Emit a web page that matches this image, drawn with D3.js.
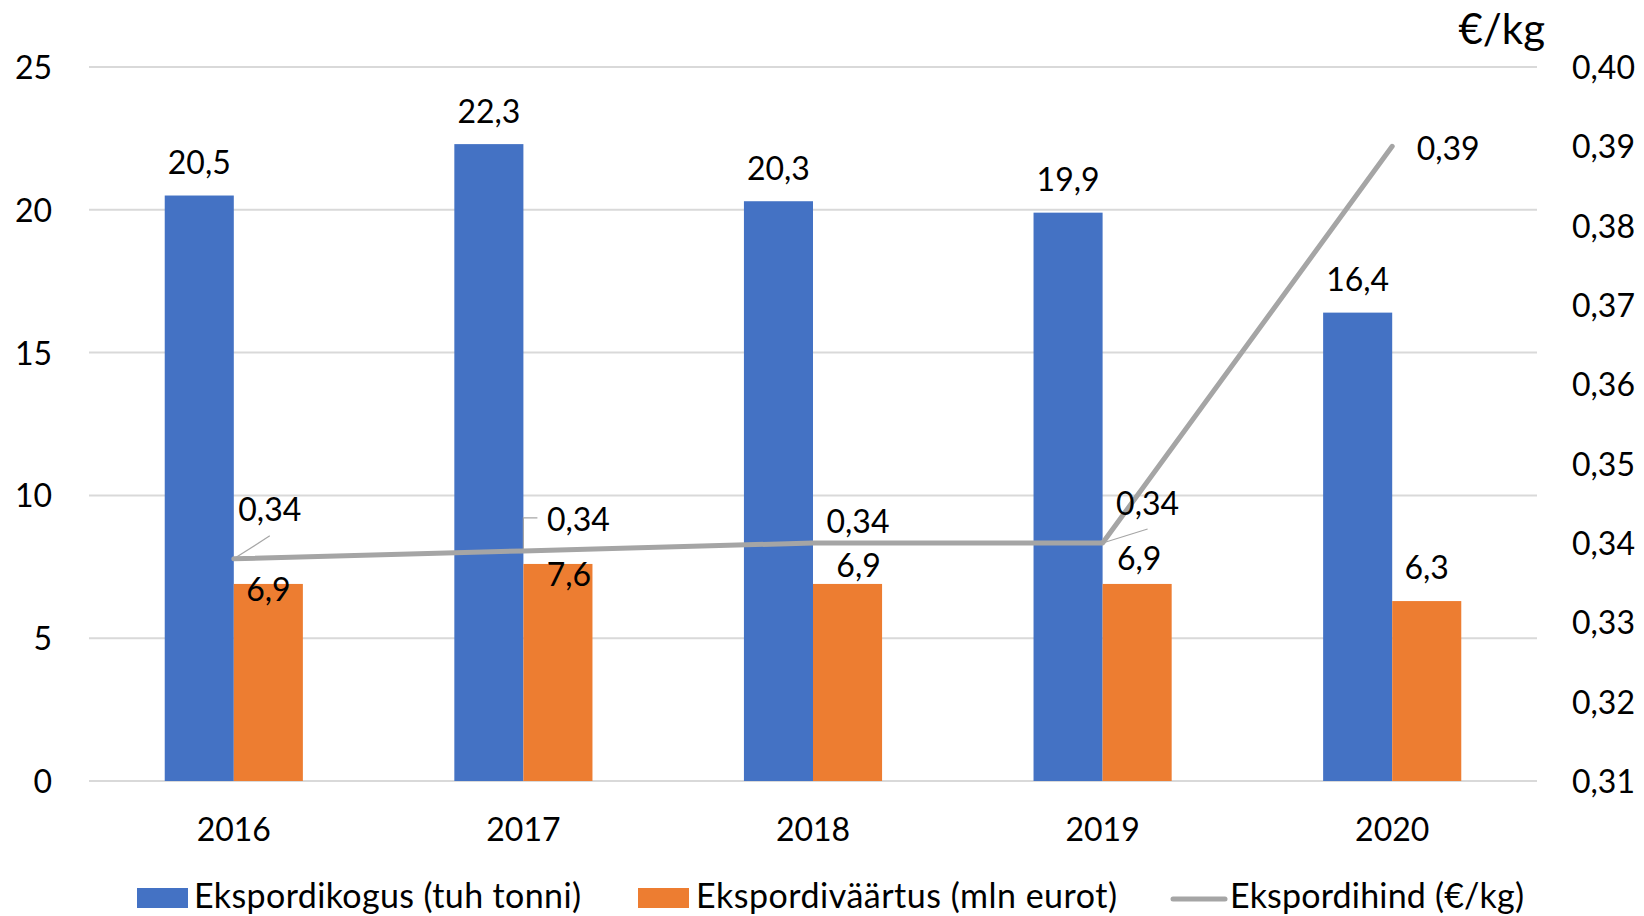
<!DOCTYPE html>
<html lang="et">
<head>
<meta charset="utf-8">
<title>Eksport 2016–2020</title>
<script src="https://cdn.jsdelivr.net/npm/d3@7"></script>
<style>
  html, body { margin: 0; padding: 0; background: #fff; }
  svg { display: block; font-family: Lato, "Open Sans", sans-serif; }
  text { fill: #000; }
</style>
</head>
<body>
<svg id="chart" width="1644" height="916"></svg>
<script>
// Years on the category axis
const years = ["2016", "2017", "2018", "2019", "2020"];
// Export quantity, thousand tonnes
const quantity = [20.5, 22.3, 20.3, 19.9, 16.4];
// Export value, million euros
const exportValue = [6.9, 7.6, 6.9, 6.9, 6.3];
// Export price, €/kg
const price = [0.338, 0.339, 0.340, 0.340, 0.390];

// Axis ticks
const leftTicks = [0, 5, 10, 15, 20, 25];
const rightTicks = [0.31, 0.32, 0.33, 0.34, 0.35, 0.36, 0.37, 0.38, 0.39, 0.40];

// Series names for the legend
const seriesNames = ["Ekspordikogus (tuh tonni)", "Ekspordiväärtus (mln eurot)", "Ekspordihind (€/kg)"];

// Label nudges (px) for value labels that were moved off their default place
const valueLabelNudge = [[0, 6], [11, 11], [11, -18], [2, -25], [0, -34]];
const priceLabelNudge = [[36, -49], [55, -31], [45, -22], [45, -40], [56, 2]];
const priceLeader = ["straight", "elbow", "none", "straight", "none"];

const colors = { qty: "#4472C4", val: "#ED7D31", price: "#A5A5A5", grid: "#D9D9D9" };
const FS = 32;
const capHalf = FS * 0.36;

const locale = d3.formatLocale({ decimal: ",", thousands: " ", grouping: [3], currency: ["", " €"] });
const f1 = locale.format(".1f");
const f2 = locale.format(".2f");
const f0 = locale.format("d");

const svg = d3.select("#chart");
const plot = { left: 89, right: 1537, top: 67, bottom: 781 };

const x = d3.scaleBand().domain(years).range([plot.left, plot.right]).padding(0);
const groupW = x.bandwidth() * 0.477;
const xs = d3.scaleBand().domain(["qty", "val"]).range([0, groupW]).padding(0);
const groupOff = (x.bandwidth() - groupW) / 2;
const yL = d3.scaleLinear().domain([0, 25]).range([plot.bottom, plot.top]);
const yR = d3.scaleLinear().domain([0.31, 0.40]).range([plot.bottom, plot.top]);
const cx = d => x(d) + x.bandwidth() / 2;

// Horizontal gridlines
svg.append("g")
  .selectAll("line")
  .data(leftTicks)
  .join("line")
  .attr("x1", plot.left).attr("x2", plot.right)
  .attr("y1", d => yL(d)).attr("y2", d => yL(d))
  .attr("stroke", colors.grid).attr("stroke-width", 2);

// Left axis
const axL = svg.append("g")
  .attr("transform", `translate(${plot.left},0)`)
  .call(d3.axisLeft(yL).tickValues(leftTicks).tickSize(0).tickPadding(37).tickFormat(f0));
axL.select(".domain").remove();
axL.selectAll("text").attr("font-size", FS).attr("font-family", "Lato").attr("fill", "#000").attr("dy", null).attr("y", capHalf);

// Right axis
const axR = svg.append("g")
  .attr("transform", `translate(${plot.right},0)`)
  .call(d3.axisRight(yR).tickValues(rightTicks).tickSize(0).tickPadding(35).tickFormat(f2));
axR.select(".domain").remove();
axR.selectAll("text").attr("font-size", FS).attr("font-family", "Lato").attr("fill", "#000").attr("dy", null).attr("y", capHalf);

// Bottom axis (labels only)
const axB = svg.append("g")
  .attr("transform", `translate(0,${plot.bottom})`)
  .call(d3.axisBottom(x).tickSize(0));
axB.select(".domain").remove();
axB.selectAll("text").attr("font-size", FS).attr("font-family", "Lato").attr("fill", "#000").attr("dy", null).attr("y", 48 + capHalf);

// Unit label for the right axis
svg.append("text")
  .attr("x", 1545).attr("y", 44)
  .attr("text-anchor", "end")
  .attr("font-size", 42)
  .text("€/kg");

// Bars
const rows = years.map((y, i) => ({ year: y, i, qty: quantity[i], val: exportValue[i], price: price[i] }));

const groups = svg.append("g").selectAll("g")
  .data(rows)
  .join("g")
  .attr("transform", d => `translate(${x(d.year) + groupOff},0)`);

groups.append("rect")
  .attr("x", xs("qty")).attr("width", xs.bandwidth())
  .attr("y", d => yL(d.qty)).attr("height", d => yL(0) - yL(d.qty))
  .attr("fill", colors.qty);

groups.append("rect")
  .attr("x", xs("val")).attr("width", xs.bandwidth())
  .attr("y", d => yL(d.val)).attr("height", d => yL(0) - yL(d.val))
  .attr("fill", colors.val);

// Price line
const line = d3.line().x(d => cx(d.year)).y(d => yR(d.price));
svg.append("path")
  .datum(rows)
  .attr("d", line)
  .attr("fill", "none")
  .attr("stroke", colors.price)
  .attr("stroke-width", 5)
  .attr("stroke-linejoin", "round")
  .attr("stroke-linecap", "round");

// Quantity labels
svg.append("g").selectAll("text")
  .data(rows)
  .join("text")
  .attr("x", d => x(d.year) + groupOff + xs("qty") + xs.bandwidth() / 2)
  .attr("y", d => yL(d.qty) - 33 + capHalf)
  .attr("text-anchor", "middle")
  .attr("font-size", FS)
  .text(d => f1(d.qty));

// Value labels
svg.append("g").selectAll("text")
  .data(rows)
  .join("text")
  .attr("x", d => x(d.year) + groupOff + xs("val") + xs.bandwidth() / 2 + valueLabelNudge[d.i][0])
  .attr("y", d => yL(d.val) + valueLabelNudge[d.i][1] + capHalf)
  .attr("text-anchor", "middle")
  .attr("font-size", FS)
  .text(d => f1(d.val));

// Price labels with leader lines
const pl = svg.append("g");
rows.forEach(d => {
  const px = cx(d.year), py = yR(d.price);
  const lx = px + priceLabelNudge[d.i][0], ly = py + priceLabelNudge[d.i][1];
  const kind = priceLeader[d.i];
  if (kind === "straight") {
    pl.append("line")
      .attr("x1", px).attr("y1", py).attr("x2", lx).attr("y2", ly + 26)
      .attr("stroke", "#A6A6A6").attr("stroke-width", 1.2);
  } else if (kind === "elbow") {
    pl.append("path")
      .attr("d", `M${px},${py} V${ly - 2} H${lx - 41}`)
      .attr("fill", "none").attr("stroke", "#A6A6A6").attr("stroke-width", 1.2);
  }
  pl.append("text")
    .attr("x", lx).attr("y", ly + capHalf)
    .attr("text-anchor", "middle")
    .attr("font-size", FS)
    .text(f2(d.price));
});

// Legend
const LFS = 34;
const legend = svg.append("g");
const legY = 896;
const legBase = legY + LFS * 0.36;
legend.append("rect").attr("x", 137).attr("y", 888).attr("width", 51).attr("height", 20).attr("fill", colors.qty);
legend.append("text").attr("x", 194).attr("y", legBase).attr("font-size", LFS)
  .attr("textLength", 387).attr("lengthAdjust", "spacing").text(seriesNames[0]);
legend.append("rect").attr("x", 638).attr("y", 888).attr("width", 51).attr("height", 20).attr("fill", colors.val);
legend.append("text").attr("x", 696).attr("y", legBase).attr("font-size", LFS)
  .attr("textLength", 421).attr("lengthAdjust", "spacing").text(seriesNames[1]);
legend.append("line").attr("x1", 1173).attr("x2", 1225).attr("y1", 899).attr("y2", 899)
  .attr("stroke", colors.price).attr("stroke-width", 5).attr("stroke-linecap", "round");
legend.append("text").attr("x", 1230).attr("y", legBase).attr("font-size", LFS)
  .attr("textLength", 294).attr("lengthAdjust", "spacing").text(seriesNames[2]);
</script>
</body>
</html>
